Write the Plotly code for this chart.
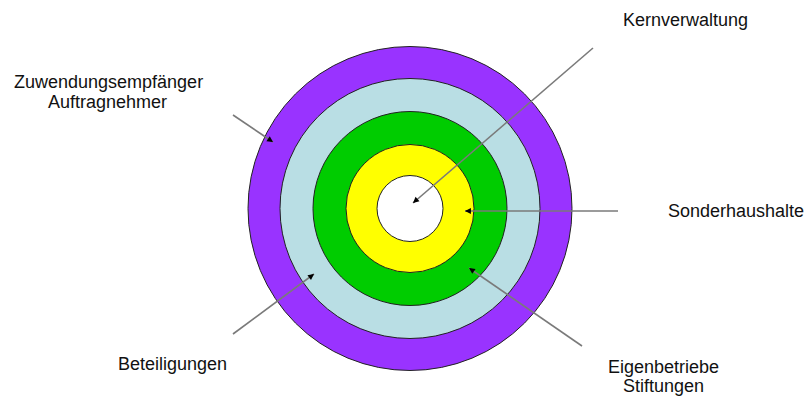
import plotly.graph_objects as go

# --- data ---
rings = ["Zuwendungsempfänger / Auftragnehmer", "Beteiligungen", "Eigenbetriebe / Stiftungen",
         "Sonderhaushalte", "Kernverwaltung"]
ring_radius = [162, 130, 97, 64, 33]
ring_colors = ["#9933FF", "#B9DEE4", "#00CC00", "#FFFF00", "#FFFFFF"]
center = (410, 208.5)

label_lines = [["Zuwendungsempfänger", "Auftragnehmer"], ["Beteiligungen"],
               ["Eigenbetriebe", "Stiftungen"], ["Sonderhaushalte"], ["Kernverwaltung"]]
# layout: label positions (x, y of each line) and arrow (tail, head)
label_pos = [[(108, 82), (107, 102)], [(172, 364)], [(663, 367), (663, 386)],
             [(736, 211)], [(685, 20)]]
arrows = [((233, 115), (273, 142)), ((233, 334), (314, 274)), ((582, 346), (469, 268)),
          ((618, 211), (465, 211)), ((593, 48), (413, 203))]

W, H = 806, 396
fig = go.Figure()
fig.add_trace(go.Scatter(x=[0, W], y=[0, H], mode="markers", marker=dict(opacity=0),
                         hoverinfo="skip", showlegend=False))

cx, cy = center
for r, col in zip(ring_radius, ring_colors):
    fig.add_shape(type="circle", xref="x", yref="y", x0=cx - r, x1=cx + r, y0=cy - r, y1=cy + r,
                  fillcolor=col, line=dict(color="#222222", width=1), layer="above")

for (tail, head) in arrows:
    fig.add_shape(type="line", xref="x", yref="y", x0=tail[0], y0=tail[1], x1=head[0], y1=head[1],
                  line=dict(color="#7a7a7a", width=1.6), layer="above")
    dx, dy = tail[0] - head[0], tail[1] - head[1]
    L = (dx * dx + dy * dy) ** 0.5
    fig.add_annotation(x=head[0], y=head[1], ax=head[0] + dx / L * 5, ay=head[1] + dy / L * 5,
                       xref="x", yref="y", axref="x", ayref="y", text="", showarrow=True,
                       arrowhead=2, arrowsize=0.85, arrowwidth=1.4, arrowcolor="#000000")

for lines, poss in zip(label_lines, label_pos):
    for t, (x, y) in zip(lines, poss):
        fig.add_annotation(x=x, y=y, xref="x", yref="y", text=t, showarrow=False,
                           xanchor="center", yanchor="middle",
                           font=dict(family="Liberation Sans, Arial", size=18, color="#111111"))

fig.update_layout(width=W, height=H, margin=dict(l=0, r=0, t=0, b=0),
                  paper_bgcolor="white", plot_bgcolor="white", showlegend=False,
                  xaxis=dict(range=[0, W], visible=False, fixedrange=True),
                  yaxis=dict(range=[H, 0], visible=False, fixedrange=True))
fig.write_html("out.html")
